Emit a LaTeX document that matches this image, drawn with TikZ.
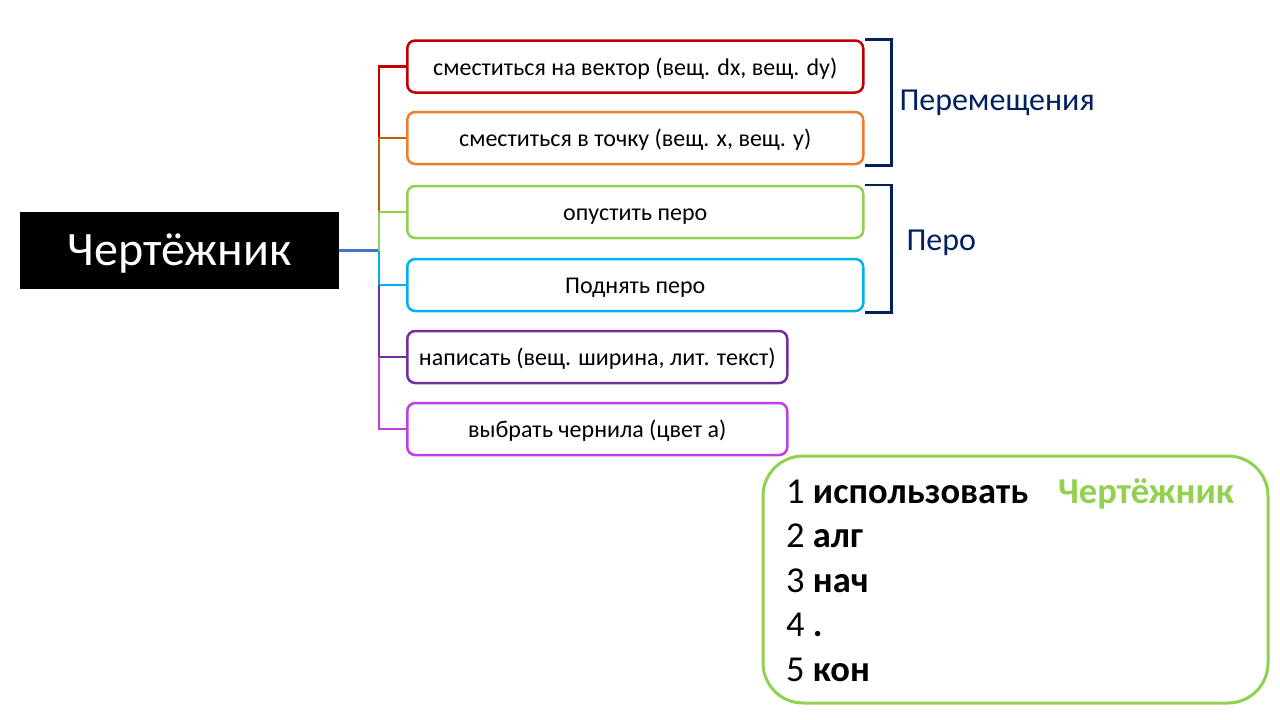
\documentclass[tikz,border=0pt]{standalone}
\usepackage{fontspec}
\setmainfont{Carlito}
\definecolor{cred}{HTML}{C00000}
\definecolor{corange}{HTML}{ED7D31}
\definecolor{cbrown}{HTML}{C55A11}
\definecolor{cgreen}{HTML}{92D050}
\definecolor{ccyan}{HTML}{00B0F0}
\definecolor{cpurple}{HTML}{7030A0}
\definecolor{cmag}{HTML}{BF40E0}
\definecolor{cblue}{HTML}{4472C4}
\definecolor{cnavy}{HTML}{002060}
\begin{document}
\begin{tikzpicture}[x=1pt,y=-1pt,
  opbox/.style={draw,line width=2.5pt,rounded corners=8pt,anchor=west,minimum height=52pt,inner sep=0pt,text height=17pt,text depth=0pt,font=\fontsize{24}{28}\selectfont,fill=white},
  conn/.style={line width=2.5pt},
  brk/.style={draw=cnavy,line width=2.5pt},
  grp/.style={text=cnavy,anchor=west,font=\fontsize{32}{36}\selectfont},
  codeline/.style={anchor=base west,font=\fontsize{36.5}{42}\selectfont,inner sep=0pt}]
\useasboundingbox (0,0) rectangle (1280,720);
\node[fill=black,text=white,minimum width=319pt,minimum height=77pt,inner sep=0pt,text height=29pt,text depth=0pt,font=\fontsize{48}{54}\selectfont] (main) at (179.5,250.5) {Чертёжник};
\node[opbox,draw=cred,minimum width=456pt] (b1) at (406,66.5) {сместиться на вектор (вещ. dx, вещ. dy)};
\node[opbox,draw=corange,minimum width=456pt] (b2) at (406,138) {сместиться в точку (вещ. x, вещ. y)};
\node[opbox,draw=cgreen,minimum width=456pt] (b3) at (406,212) {опустить перо};
\node[opbox,draw=ccyan,minimum width=456pt] (b4) at (406,285) {Поднять перо};
\node[opbox,draw=cpurple,minimum width=380pt] (b5) at (406,357) {написать (вещ. ширина, лит. текст)};
\node[opbox,draw=cmag,minimum width=380pt] (b6) at (406,429) {выбрать чернила (цвет а)};
\coordinate (j) at (379,250.5);
\draw[conn,cblue] (main.east) -- (j);
\draw[conn,cred] (b1.west) -- (b1.west -| j) -- (b2.west -| j);
\draw[conn,cbrown] (b2.west) -- (b2.west -| j) -- (b3.west -| j);
\draw[conn,cgreen] (b3.west) -- (b3.west -| j) -- (j);
\draw[conn,ccyan] (j) -- (b4.west -| j) -- (b4.west);
\draw[conn,cpurple] (b4.west -| j) -- (b5.west -| j) -- (b5.west);
\draw[conn,cmag] (b5.west -| j) -- (b6.west -| j) -- (b6.west);
\draw[brk] (b1.north east) -- ++(27,0) coordinate (k1) |- (b2.south east);
\draw[brk] (b3.north east) -- ++(27,0) coordinate (k2) |- (b4.south east);
\node[grp] (g1) at (896,103) {Перемещения};
\node[grp] (g2) at (903,243) {Перо};
\node[draw=cgreen,line width=3pt,rounded corners=40pt,minimum width=505pt,minimum height=247pt,inner sep=0pt] (code) at (1015.5,579.5) {};
\node[codeline] (l1) at (786,503) {1 \textbf{использовать}};
\node[codeline,text=cgreen] (l1b) at (1058,503) {\textbf{Чертёжник}};
\node[codeline] (l2) at (786,547.5) {2 \textbf{алг}};
\node[codeline] (l3) at (786,592) {3 \textbf{нач}};
\node[codeline] (l4) at (786,636.5) {4 \textbf{.}};
\node[codeline] (l5) at (786,681) {5 \textbf{кон}};
\end{tikzpicture}
\end{document}
